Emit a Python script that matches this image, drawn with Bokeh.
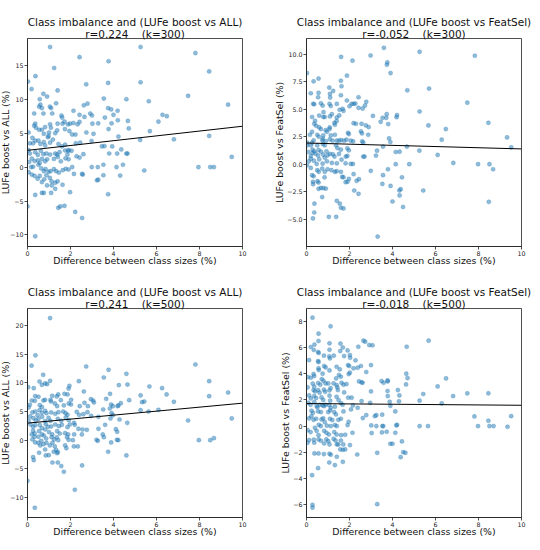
from bokeh.plotting import figure
from bokeh.models import Range1d, FixedTicker, CustomJSTickFormatter, Title
from bokeh.layouts import column, row
from bokeh.embed import file_html
from bokeh.resources import INLINE

FONT = "DejaVu Sans"
BLUE = "#1f77b4"

# (difference between class sizes %, LUFe boost %) per dataset
boost_vs_all_k300 = [
    (1.05, 17.7), (5.26, 17.7), (2.42, 16.2), (7.81, 16.8), (3.77, 15.6), (1.24, 14.6), (8.45, 14.1),
    (0.37, 13.4), (0.02, 12.6), (5.26, 12.5), (3.75, 12.4), (2.73, 12.2), (0.19, 11.5), (1.40, 11.3),
    (0.74, 10.8), (0.91, 10.4), (7.47, 10.5), (3.55, 10.1), (4.60, 10.0), (0.57, 10.0), (5.64, 9.7),
    (1.33, 9.4), (9.33, 9.2), (0.60, 9.2), (0.54, 8.9), (0.67, 8.7), (2.62, 9.1), (2.79, 9.35),
    (1.04, 8.9), (1.10, 8.7), (2.14, 8.3), (3.75, 8.7), (3.89, 8.5), (4.19, 8.3), (6.28, 7.7),
    (6.48, 7.5), (0.31, 7.9), (0.74, 7.9), (1.15, 7.9), (1.58, 7.6), (1.61, 7.3), (2.42, 7.7),
    (2.65, 7.4), (2.92, 7.9), (3.00, 7.6), (3.60, 7.3), (4.00, 7.7), (4.67, 6.8), (6.09, 6.7),
    (0.36, 6.4), (0.31, 6.1), (0.40, 5.8), (0.82, 5.9), (1.05, 6.3), (1.09, 5.8), (1.40, 6.4),
    (1.63, 6.4), (1.72, 6.7), (1.88, 6.3), (1.98, 6.4), (2.14, 6.5), (2.33, 6.3), (2.42, 6.65),
    (3.02, 6.4), (3.29, 6.45), (3.91, 6.45), (4.20, 6.9), (4.71, 5.7), (5.69, 5.3), (0.05, 5.1),
    (0.54, 5.5), (0.67, 5.5), (0.76, 4.9), (1.00, 5.1), (0.98, 4.6), (0.95, 4.4), (1.29, 5.0),
    (1.38, 5.4), (1.74, 5.6), (1.95, 5.3), (2.08, 4.8), (2.23, 4.8), (2.74, 5.1), (3.07, 4.9),
    (3.77, 5.6), (4.23, 4.5), (3.58, 3.1), (3.94, 3.05), (5.24, 4.0), (6.81, 4.1), (8.45, 4.6),
    (0.23, 4.3), (0.36, 3.9), (0.26, 3.5), (0.11, 3.5), (0.51, 3.9), (0.60, 3.4), (0.76, 3.7),
    (0.82, 3.2), (1.05, 3.6), (1.18, 4.05), (1.44, 3.4), (1.60, 3.05), (1.75, 3.3), (1.92, 2.5),
    (2.05, 2.4), (2.25, 3.5), (2.45, 3.6), (2.60, 1.9), (2.98, 3.85), (3.46, 3.05), (3.80, 2.0),
    (4.17, 2.0), (4.36, 2.6), (4.60, 2.0), (4.65, 2.0), (0.05, 2.5), (0.11, 2.0), (0.36, 2.2),
    (0.48, 1.8), (0.62, 2.4), (0.74, 1.9), (0.88, 2.0), (1.05, 1.85), (1.29, 2.0), (1.38, 1.85),
    (1.49, 2.2), (1.75, 2.45), (1.89, 2.4), (1.86, 1.85), (2.28, 1.6), (2.42, 1.4), (0.20, 1.25),
    (0.33, 0.9), (0.48, 1.0), (0.57, 0.6), (0.67, 1.2), (0.82, 0.85), (0.91, 1.15), (1.23, 1.2),
    (1.41, 1.5), (1.55, 0.85), (1.77, 1.3), (1.91, 1.15), (2.08, 0.0), (2.99, 0.0), (3.27, 0.0),
    (3.53, 0.35), (4.14, 0.0), (4.44, 0.35), (5.43, -0.5), (7.95, 0.0), (8.50, 0.0), (8.67, 0.0),
    (9.50, 1.5), (0.08, 0.75), (0.17, 0.0), (0.26, 0.05), (0.51, 0.35), (0.64, -0.2), (0.76, -0.6),
    (0.84, -0.3), (0.98, -0.7), (1.07, -0.6), (1.23, -0.3), (1.33, -0.6), (1.46, -0.8), (1.64, -0.45),
    (1.78, -0.25), (1.91, -0.35), (2.16, -1.0), (2.54, -1.0), (2.57, -1.1), (3.53, -1.2), (3.23, -1.95),
    (3.29, -1.85), (4.31, -1.25), (0.05, -0.75), (0.20, -1.1), (0.33, -1.3), (0.47, -1.7), (0.57, -1.3),
    (0.67, -2.2), (0.78, -1.8), (0.88, -1.2), (1.04, -1.6), (1.12, -2.1), (1.29, -2.3), (1.40, -2.1),
    (1.63, -2.6), (1.29, -3.2), (1.13, -2.7), (0.91, -2.7), (0.76, -3.8), (0.67, -3.8), (0.36, -4.1),
    (1.10, -3.8), (1.98, -3.7), (3.75, -4.0), (1.43, -6.0), (1.53, -5.8), (1.72, -5.7), (2.22, -6.6),
    (2.54, -7.5), (0.36, -10.2), (0.00, -5.8),
]

boost_vs_featsel_k300 = [
    (3.60, 10.6), (5.26, 10.24), (7.83, 9.88), (2.98, 9.9), (1.61, 9.77), (2.14, 9.43), (3.76, 9.27),
    (3.74, 9.06), (3.91, 8.3), (0.02, 8.3), (1.88, 8.06), (0.56, 7.8), (0.33, 7.55), (1.60, 7.6),
    (1.63, 7.1), (1.06, 6.98), (1.24, 6.67), (4.69, 6.73), (5.70, 6.89), (0.20, 6.46), (0.56, 6.5),
    (0.54, 6.1), (1.09, 6.4), (1.10, 6.07), (1.60, 6.28), (2.42, 6.1), (1.88, 5.8), (2.78, 5.68),
    (2.72, 5.34), (7.48, 5.6), (0.31, 5.5), (0.36, 5.46), (0.67, 5.55), (0.75, 5.34), (1.07, 5.5),
    (1.13, 5.3), (1.41, 5.49), (2.00, 5.28), (2.10, 5.5), (2.19, 5.5), (2.27, 5.52), (2.42, 5.13),
    (2.61, 5.07), (1.54, 4.95), (1.72, 4.86), (1.68, 5.04), (0.79, 4.74), (5.26, 4.8), (0.26, 4.3),
    (0.59, 4.43), (0.78, 4.3), (0.85, 4.3), (1.09, 4.35), (1.18, 4.56), (1.41, 4.25), (1.52, 4.44),
    (3.09, 4.4), (3.54, 4.22), (3.73, 4.56), (3.71, 4.22), (4.21, 4.47), (4.19, 4.28), (3.45, 3.86),
    (3.80, 3.65), (0.40, 3.95), (0.36, 3.68), (0.45, 3.5), (0.59, 3.35), (0.67, 3.2), (0.89, 3.1),
    (0.95, 2.95), (1.07, 3.2), (1.08, 3.35), (1.30, 3.77), (1.40, 3.92), (1.32, 3.59), (2.19, 3.74),
    (2.30, 3.68), (2.56, 3.68), (2.76, 3.53), (2.89, 3.38), (1.93, 2.86), (1.97, 2.74), (2.53, 2.98),
    (2.58, 2.8), (5.67, 3.53), (6.48, 3.2), (8.46, 3.77), (6.29, 2.23), (9.33, 2.44), (9.52, 1.53),
    (0.16, 2.68), (0.26, 2.95), (0.50, 2.68), (0.57, 2.5), (0.78, 2.62), (0.76, 2.32), (0.74, 2.17),
    (0.89, 2.08), (1.13, 2.62), (1.32, 2.68), (1.08, 2.26), (1.21, 2.14), (1.41, 2.14), (1.51, 2.14),
    (1.61, 2.2), (1.75, 2.14), (1.86, 2.23), (2.06, 2.14), (2.17, 2.08), (2.59, 2.08), (2.64, 1.96),
    (2.87, 2.68), (3.84, 2.35), (3.90, 2.02), (4.67, 1.6), (5.25, 1.23), (0.33, 2.17), (0.26, 1.96),
    (0.03, 1.96), (0.03, 1.72), (0.20, 1.72), (0.28, 1.32), (0.36, 1.17), (0.50, 1.72), (0.56, 1.29),
    (0.76, 1.84), (0.85, 1.72), (0.93, 1.17), (1.37, 1.72), (1.44, 1.47), (1.60, 1.32), (1.90, 1.44),
    (1.97, 1.26), (0.08, 1.11), (0.20, 0.75), (0.28, 1.02), (0.42, 0.96), (0.54, 0.78), (0.67, 1.14),
    (0.78, 0.87), (0.98, 0.81), (1.09, 0.93), (1.23, 0.9), (1.30, 0.69), (1.51, 0.93), (1.83, 0.69),
    (1.90, 0.75), (2.64, 0.69), (3.28, 1.23), (3.23, 0.78), (3.56, 1.6), (4.15, 1.11), (4.33, 1.14),
    (6.10, 0.84), (0.20, 0.5), (0.11, 0.26), (0.34, 0.32), (0.47, 0.02), (0.59, 0.44), (0.75, 0.05),
    (0.85, 0.6), (0.95, 0.26), (1.18, 0.11), (1.41, 0.08), (1.63, 0.41), (1.82, 0.08), (2.06, 0.02),
    (2.16, 0.02), (2.70, 0.69), (6.83, 0.11), (7.98, 0.0), (8.51, 0.0), (8.68, -0.46), (4.15, 0.0),
    (4.78, 0.0), (0.02, -0.1), (0.20, -0.34), (0.26, -1.0), (0.33, -1.1), (0.50, -0.55), (0.57, -0.7),
    (0.73, -0.4), (0.85, -0.7), (0.98, -0.46), (1.16, -0.55), (1.32, -0.7), (1.40, -0.64), (1.60, -0.7),
    (1.66, -1.16), (1.72, -1.19), (1.82, -1.64), (1.91, -1.6), (1.97, -1.34), (2.19, -0.9), (2.33, -1.52),
    (2.44, -1.37), (2.99, -0.61), (3.56, -1.0), (3.53, -1.8), (3.79, -0.46), (3.91, -1.98), (4.44, -1.2),
    (4.32, -2.4), (4.38, -2.28), (4.33, -2.85), (4.49, -3.9), (4.00, -3.4), (5.43, -2.4), (8.48, -3.43),
    (3.31, -6.6), (0.51, -1.55), (0.56, -1.67), (0.30, -1.61), (0.31, -1.82), (0.56, -2.25), (0.67, -2.16),
    (0.78, -2.19), (0.90, -2.22), (0.84, -1.2), (2.22, -2.4), (2.42, -2.7), (0.73, -3.0), (0.37, -3.6),
    (1.41, -3.34), (1.55, -3.6), (1.60, -3.97), (1.72, -4.03), (0.36, -4.4), (0.30, -4.94), (1.04, -4.8),
    (1.38, -4.8),
]

boost_vs_all_k500 = [
    (1.05, 21.3), (0.37, 14.8), (0.19, 13.0), (2.73, 12.85), (7.81, 13.2), (3.77, 12.27), (0.73, 11.4),
    (3.55, 10.93), (4.60, 11.57), (0.56, 10.23), (0.67, 9.65), (1.05, 10.35), (0.82, 9.9), (0.91, 9.77),
    (2.39, 10.29), (8.45, 10.29), (1.95, 9.48), (1.91, 9.0), (4.65, 9.7), (4.25, 9.6), (5.67, 9.36),
    (6.26, 9.07), (0.29, 9.07), (0.03, 9.24), (9.33, 8.31), (8.45, 7.67), (6.47, 7.97), (5.26, 7.8),
    (3.84, 8.08), (2.62, 8.49), (1.43, 7.97), (1.36, 7.62), (1.15, 7.73), (1.72, 8.08), (1.86, 7.97),
    (0.36, 7.67), (0.51, 7.56), (0.20, 6.92), (0.34, 6.86), (0.74, 6.92), (0.82, 7.03), (1.07, 7.03),
    (1.09, 6.74), (1.55, 6.98), (2.03, 7.03), (2.95, 7.15), (3.05, 6.92), (3.66, 7.2), (4.73, 6.98),
    (5.33, 6.63), (5.43, 6.74), (6.81, 6.69), (4.34, 6.45), (4.23, 6.05), (3.89, 6.22), (3.97, 5.93),
    (2.65, 6.51), (3.09, 6.57), (1.92, 6.4), (2.02, 6.22), (1.27, 6.4), (1.38, 5.93), (0.11, 6.16),
    (0.05, 5.7), (0.57, 6.1), (0.67, 5.76), (1.69, 6.05), (2.43, 5.93), (2.81, 5.93), (3.52, 5.35),
    (3.83, 5.52), (5.26, 5.23), (5.63, 5.0), (6.09, 5.29), (0.23, 4.83), (0.36, 5.0), (0.47, 4.36),
    (0.56, 5.23), (0.67, 4.77), (0.82, 5.12), (0.88, 4.71), (1.10, 4.83), (1.29, 4.6), (1.44, 4.88),
    (1.66, 5.0), (1.77, 4.71), (1.86, 4.42), (2.29, 4.94), (2.40, 4.42), (2.60, 4.53), (2.79, 4.88),
    (3.91, 4.71), (3.97, 4.36), (4.19, 5.93), (4.28, 3.6), (4.64, 3.02), (7.47, 3.43), (9.50, 3.78),
    (0.12, 4.13), (0.05, 3.43), (0.28, 3.84), (0.39, 3.43), (0.51, 3.72), (0.68, 4.07), (0.82, 3.31),
    (0.98, 3.9), (1.07, 3.37), (1.41, 3.72), (1.57, 3.37), (1.78, 3.95), (1.92, 3.49), (2.16, 3.02),
    (2.20, 2.67), (2.96, 4.24), (3.30, 4.07), (3.61, 2.67), (3.86, 3.78), (0.14, 2.73), (0.26, 2.33),
    (0.36, 2.62), (0.57, 2.62), (0.67, 2.1), (0.85, 2.79), (0.95, 2.33), (1.10, 2.38), (1.29, 2.73),
    (1.46, 2.44), (1.60, 2.67), (1.86, 2.27), (1.97, 2.73), (2.37, 1.98), (2.56, 1.86), (3.30, 1.98),
    (2.76, 1.8), (4.11, 1.92), (4.17, 1.45), (0.26, 1.63), (0.33, 1.16), (0.54, 1.57), (0.67, 0.99),
    (0.82, 1.86), (1.00, 1.4), (1.15, 0.99), (1.38, 1.57), (1.50, 1.16), (1.75, 1.22), (1.89, 0.99),
    (2.17, 0.99), (2.53, 0.99), (3.50, 0.99), (3.55, 0.52), (0.20, 0.99), (0.33, 0.58), (0.51, 0.58),
    (0.64, -0.12), (0.76, 0.81), (0.87, 0.29), (1.12, 0.52), (1.24, 0.12), (1.36, 0.47), (1.43, 0.0),
    (1.84, 0.52), (1.91, 0.06), (2.11, 0.0), (3.21, 0.06), (3.27, -0.12), (4.16, 0.06), (4.22, 0.0),
    (3.89, -0.4), (3.75, -2.03), (4.60, -2.67), (7.97, 0.0), (8.50, 0.0), (8.67, 0.35), (0.23, 0.12),
    (0.36, -0.4), (0.51, -0.47), (0.59, -0.93), (0.74, -0.7), (0.88, -0.47), (1.04, -0.93), (1.16, -0.47),
    (1.27, -1.1), (1.33, -1.74), (1.41, -2.09), (1.75, -0.93), (2.16, -1.1), (2.34, -1.1), (0.54, -2.2),
    (0.82, -1.63), (0.85, -2.67), (0.99, -2.62), (1.22, -2.03), (1.38, -2.27), (1.81, -1.4), (0.26, -2.97),
    (0.29, -3.49), (1.16, -3.9), (1.41, -3.9), (1.57, -4.53), (1.69, -5.52), (2.54, -4.42), (2.20, -8.66),
    (0.34, -11.8), (0.00, -7.1),
]

boost_vs_featsel_k500 = [
    (0.28, 8.28), (1.12, 7.62), (0.56, 7.06), (0.56, 6.5), (0.20, 6.04), (0.34, 5.81), (0.37, 6.22),
    (1.07, 6.32), (1.07, 5.83), (1.58, 6.3), (1.69, 6.0), (1.91, 5.78), (2.41, 6.06), (2.65, 6.52),
    (2.73, 6.45), (2.92, 6.19), (3.07, 6.17), (4.66, 6.06), (5.68, 6.52), (0.12, 5.04), (0.54, 5.66),
    (0.57, 5.58), (0.81, 5.38), (1.27, 5.38), (0.54, 4.97), (0.56, 4.89), (1.06, 5.32), (1.09, 5.17),
    (1.57, 5.73), (2.02, 5.43), (2.03, 5.22), (1.75, 5.35), (2.28, 5.02), (1.93, 4.66), (1.99, 4.59),
    (0.82, 4.59), (0.89, 4.48), (1.40, 4.53), (1.55, 4.33), (2.19, 4.41), (2.38, 4.46), (2.53, 4.59),
    (3.00, 4.66), (0.56, 4.41), (0.57, 4.28), (1.07, 4.25), (0.33, 3.97), (0.36, 3.82), (0.75, 4.0),
    (1.96, 3.97), (2.02, 4.08), (2.78, 4.13), (0.06, 3.74), (0.20, 3.69), (0.71, 3.59), (0.79, 3.46),
    (1.38, 3.64), (1.51, 3.9), (1.60, 3.77), (4.64, 4.0), (4.70, 3.67), (6.49, 3.64), (6.10, 3.03),
    (3.49, 3.44), (3.59, 3.31), (3.77, 3.49), (3.78, 3.41), (4.63, 3.18), (2.44, 3.41), (2.56, 3.34),
    (2.61, 3.31), (0.05, 2.96), (0.29, 3.24), (0.36, 3.01), (0.54, 3.29), (0.64, 3.16), (0.89, 3.26),
    (1.01, 3.26), (1.26, 3.26), (1.40, 3.13), (1.63, 3.31), (1.72, 3.16), (1.86, 3.21), (0.33, 2.75),
    (0.40, 2.65), (0.54, 2.75), (0.61, 2.55), (0.81, 2.78), (0.87, 2.62), (1.12, 2.9), (1.07, 2.73),
    (1.43, 2.96), (1.46, 2.75), (1.75, 2.57), (1.94, 2.17), (2.10, 2.17), (3.00, 2.65), (3.77, 2.68),
    (3.78, 2.29), (4.25, 2.75), (4.32, 2.34), (5.43, 2.45), (6.82, 2.29), (7.48, 2.5), (8.46, 2.5),
    (5.26, 1.94), (6.29, 1.73), (0.12, 2.34), (0.20, 2.11), (0.36, 2.29), (0.45, 2.14), (0.70, 2.19),
    (0.78, 1.99), (1.07, 2.32), (1.10, 1.94), (1.40, 2.24), (1.49, 1.99), (1.60, 1.76), (1.68, 1.63),
    (2.56, 1.91), (2.96, 1.78), (3.87, 1.86), (3.90, 1.55), (4.30, 1.89), (0.08, 1.78), (0.19, 1.63),
    (0.36, 1.83), (0.47, 1.53), (0.51, 1.43), (0.62, 1.63), (0.75, 1.58), (0.82, 1.53), (0.89, 1.63),
    (1.06, 1.6), (1.13, 1.4), (1.32, 1.48), (2.16, 1.58), (2.38, 1.4), (0.23, 1.17), (0.30, 1.02),
    (0.54, 1.12), (0.67, 1.07), (1.01, 1.07), (1.10, 1.2), (1.29, 1.07), (1.37, 0.89), (1.72, 1.12),
    (2.07, 1.27), (2.78, 0.84), (3.18, 0.76), (3.25, 0.84), (3.52, 0.87), (4.13, 1.12), (7.81, 0.74),
    (8.46, 0.41), (9.52, 0.76), (0.12, 0.59), (0.23, 0.76), (0.33, 0.48), (0.45, 0.56), (0.70, 0.51),
    (0.78, 0.59), (0.85, 0.31), (0.95, 0.03), (1.09, 0.56), (1.20, 0.46), (1.48, 0.48), (1.60, 0.56),
    (1.96, 0.33), (2.62, 0.61), (0.57, 0.1), (0.67, 0.0), (1.13, 0.0), (1.32, 0.08), (1.41, 0.0),
    (1.91, 0.08), (3.01, 0.05), (3.25, 0.0), (3.53, 0.0), (3.57, 0.0), (4.18, 0.05), (4.21, 0.1),
    (5.26, 0.0), (5.65, 0.0), (7.98, 0.0), (8.51, 0.0), (8.70, 0.0), (9.35, -0.05), (0.05, -0.31),
    (0.19, -0.46), (0.39, -0.13), (0.47, -0.36), (0.56, -0.69), (0.82, -0.36), (0.93, -0.51), (1.04, -0.64),
    (1.29, -0.46), (1.40, -0.64), (1.61, -0.69), (1.80, -0.66), (2.14, -0.51), (3.03, -0.53), (3.51, -0.48),
    (3.73, -0.43), (4.13, -0.51), (0.12, -1.07), (0.05, -1.27), (0.34, -1.04), (0.36, -1.27), (0.56, -1.02),
    (0.67, -1.12), (0.92, -1.02), (1.01, -1.15), (1.26, -0.97), (1.35, -1.1), (1.60, -1.1), (1.71, -1.4),
    (0.82, -1.33), (1.07, -1.4), (1.41, -1.4), (1.48, -1.4), (1.57, -1.78), (1.69, -1.81), (1.80, -1.78),
    (2.02, -1.45), (3.90, -1.35), (4.00, -1.35), (4.44, -1.17), (0.37, -2.09), (0.56, -2.09), (0.81, -2.14),
    (1.07, -2.11), (1.13, -2.19), (1.41, -2.34), (2.36, -2.17), (3.29, -2.04), (4.50, -1.99), (4.60, -2.04),
    (4.38, -2.37), (1.06, -2.78), (1.32, -2.98), (1.69, -2.73), (0.54, -3.21), (0.26, -3.75), (0.28, -6.01),
    (0.28, -6.22), (3.29, -5.96),
]

series = [boost_vs_all_k300, boost_vs_featsel_k300, boost_vs_all_k500, boost_vs_featsel_k500]

titles = [
    "Class imbalance and (LUFe boost vs ALL)",
    "Class imbalance and (LUFe boost vs FeatSel)",
    "Class imbalance and (LUFe boost vs ALL)",
    "Class imbalance and (LUFe boost vs FeatSel)",
]
# non-breaking spaces keep the wide gap between r and k
subtitles = [
    "r=0.224\u00a0\u00a0\u00a0\u00a0(k=300)",
    "r=-0.052\u00a0\u00a0\u00a0\u00a0(k=300)",
    "r=0.241\u00a0\u00a0\u00a0\u00a0(k=500)",
    "r=-0.018\u00a0\u00a0\u00a0\u00a0(k=500)",
]
x_label = "Difference between class sizes (%)"
y_labels = [
    "LUFe boost vs ALL (%)",
    "LUFe boost vs FeatSel (%)",
    "LUFe boost vs ALL (%)",
    "LUFe boost vs FeatSel (%)",
]
x_ticks = [0, 2, 4, 6, 8, 10]
y_ticks = [
    [-10, -5, 0, 5, 10, 15],
    [-5.0, -2.5, 0.0, 2.5, 5.0, 7.5, 10.0],
    [-10, -5, 0, 5, 10, 15, 20],
    [-6, -4, -2, 0, 2, 4, 6, 8],
]
y_decimals = [0, 1, 0, 0]
y_limits = [(-11.7, 18.95), (-7.5, 11.45), (-13.5, 22.97), (-6.98, 8.98)]

# least-squares fit line, evaluated at x = 0 and x = 10
fit_x = [0, 10]
fit_at_0 = [2.47, 1.93, 2.97, 1.72]
fit_at_10 = [6.02, 1.39, 6.45, 1.59]

# figure heights per grid row and (left, right, top, bottom) borders per cell
row_heights = [270, 280]
borders = [(27, 28, 38, 24), (36, 19, 38, 24), (27, 28, 38, 33), (36, 19, 38, 33)]
y_title_standoff = [-6, 0, -6, 0]


def tick_formatter(decimals):
    return CustomJSTickFormatter(args=dict(d=decimals), code="""
        const s = Math.abs(tick).toFixed(d);
        return tick < 0 ? "\\u2212" + s : s;
    """)


def style_axis(ax):
    ax.major_label_text_font = FONT
    ax.major_label_text_font_size = "6.3px"
    ax.major_label_text_color = "#222222"
    ax.major_label_standoff = 1
    ax.axis_line_color = "#222222"
    ax.axis_line_width = 0.8
    ax.major_tick_line_color = "#222222"
    ax.major_tick_line_width = 0.8
    ax.major_tick_in = 0
    ax.major_tick_out = 3
    ax.minor_tick_line_color = None


def text_title(text, standoff):
    return Title(text=text, align="center", text_font=FONT, text_font_size="10.5px",
                 text_font_style="normal", text_color="#111111", standoff=standoff)


def make_panel(i):
    left, right, top, bottom = borders[i]
    y_lo, y_hi = y_limits[i]
    p = figure(width=270, height=row_heights[i // 2], x_range=Range1d(0, 10),
               y_range=Range1d(y_lo, y_hi),
               output_backend="svg", toolbar_location=None,
               min_border_left=left, min_border_right=right,
               min_border_top=top, min_border_bottom=bottom)
    p.outline_line_color = "#222222"
    p.outline_line_width = 0.8
    p.xgrid.visible = False
    p.ygrid.visible = False

    # first title line sits on top, the r / k line right above the frame
    p.title.text = titles[i]
    p.title.align = "center"
    p.title.text_font = FONT
    p.title.text_font_size = "10.5px"
    p.title.text_font_style = "normal"
    p.title.text_color = "#111111"
    p.title.standoff = -1
    p.add_layout(text_title(subtitles[i], -3), "above")

    xax = p.xaxis[0]
    yax = p.yaxis[0]
    style_axis(xax)
    style_axis(yax)
    xax.axis_label = x_label
    xax.axis_label_text_font = FONT
    xax.axis_label_text_font_size = "9.4px"
    xax.axis_label_text_font_style = "normal"
    xax.axis_label_text_color = "#111111"
    xax.axis_label_standoff = -4
    xax.ticker = FixedTicker(ticks=x_ticks)
    xax.formatter = tick_formatter(0)
    yax.ticker = FixedTicker(ticks=y_ticks[i])
    yax.formatter = tick_formatter(y_decimals[i])

    # vertical axis title, stacked outside the tick labels
    y_title = text_title(y_labels[i], y_title_standoff[i])
    y_title.text_font_size = "9.4px"
    p.add_layout(y_title, "left")

    xs = [pt[0] for pt in series[i]]
    ys = [pt[1] for pt in series[i]]
    p.scatter(xs, ys, size=4.2, fill_color=BLUE, line_color=BLUE, fill_alpha=0.5, line_alpha=0.5,
              line_width=0.5)
    p.line(fit_x, [fit_at_0[i], fit_at_10[i]], line_color="black", line_width=1.0)
    return p


panels = [make_panel(i) for i in range(4)]
layout = column(row(panels[0], panels[1]), row(panels[2], panels[3]))

open("out.html", "w").write(file_html(layout, INLINE))
